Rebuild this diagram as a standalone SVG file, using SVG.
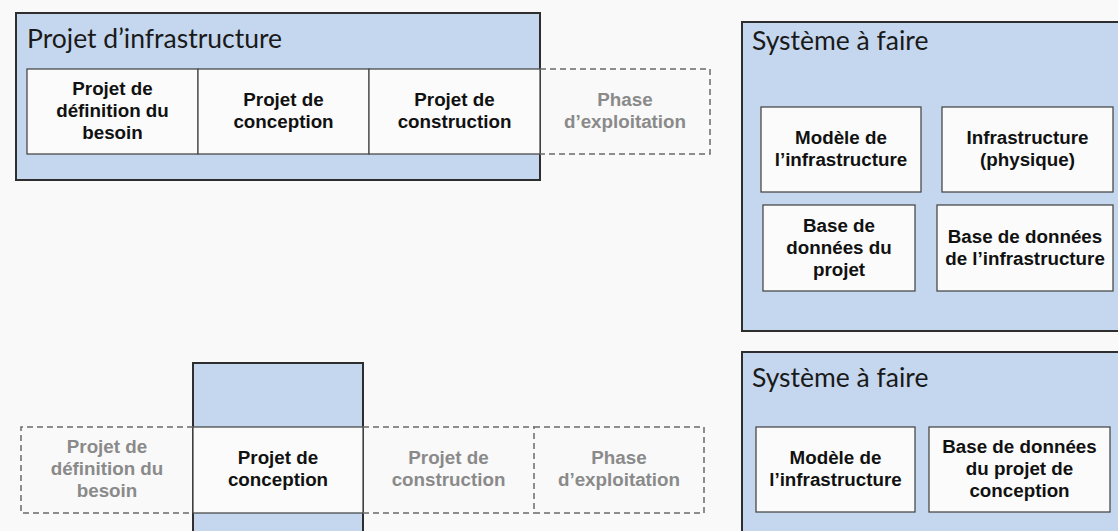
<svg xmlns="http://www.w3.org/2000/svg" width="1118" height="531" viewBox="0 0 1118 531">
<style>
.bg{fill:#f9f9f9}
.frame{fill:#c5d7ee;stroke:#2e2e2e;stroke-width:2}
.cell{fill:#fbfbfb;stroke:#4a4a4a;stroke-width:1.3}
.dash{fill:none;stroke:#6a6a6a;stroke-width:1.5;stroke-dasharray:6 4}
.title{font-family:Lato,"Open Sans",sans-serif;font-size:26.5px;fill:#1a1a1a}
.lbl{font-family:"Liberation Sans",Arial,sans-serif;font-weight:bold;font-size:18.8px;fill:#111;text-anchor:middle}
.gray{fill:#8a8a8a}
</style>
<rect class="bg" x="0" y="0" width="1118" height="531"/>

<g id="projet-infrastructure">
  <rect class="frame" x="16" y="13" width="524" height="167"/>
  <text class="title" x="27" y="48">Projet d’infrastructure</text>
</g>
<g id="top-definition">
  <rect class="cell" x="27" y="69" width="171" height="85"/>
  <text class="lbl"><tspan x="112.5" y="95">Projet de</tspan><tspan x="112.5" y="117">définition du</tspan><tspan x="112.5" y="139">besoin</tspan></text>
</g>
<g id="top-conception">
  <rect class="cell" x="198" y="69" width="171" height="85"/>
  <text class="lbl"><tspan x="283.5" y="106">Projet de</tspan><tspan x="283.5" y="128">conception</tspan></text>
</g>
<g id="top-construction">
  <rect class="cell" x="369" y="69" width="171" height="85"/>
  <text class="lbl"><tspan x="454.5" y="106">Projet de</tspan><tspan x="454.5" y="128">construction</tspan></text>
</g>
<g id="top-exploitation">
  <path class="dash" d="M540 69 H710 V154 H540"/>
  <text class="lbl gray"><tspan x="625" y="106">Phase</tspan><tspan x="625" y="128">d’exploitation</tspan></text>
</g>

<g id="systeme-haut">
  <rect class="frame" x="742" y="22" width="390" height="309"/>
  <text class="title" x="752" y="50">Système à faire</text>
</g>
<g id="modele-haut">
  <rect class="cell" x="761" y="107" width="160" height="85"/>
  <text class="lbl"><tspan x="841" y="144">Modèle de</tspan><tspan x="841" y="166">l’infrastructure</tspan></text>
</g>
<g id="infrastructure-physique">
  <rect class="cell" x="942" y="107" width="171" height="85"/>
  <text class="lbl"><tspan x="1027.5" y="144">Infrastructure</tspan><tspan x="1027.5" y="166">(physique)</tspan></text>
</g>
<g id="bdd-projet">
  <rect class="cell" x="763" y="205" width="152" height="86"/>
  <text class="lbl"><tspan x="839" y="232">Base de</tspan><tspan x="839" y="254">données du</tspan><tspan x="839" y="276">projet</tspan></text>
</g>
<g id="bdd-infrastructure">
  <rect class="cell" x="937" y="205" width="176" height="86"/>
  <text class="lbl"><tspan x="1025" y="243">Base de données</tspan><tspan x="1025" y="265">de l’infrastructure</tspan></text>
</g>

<g id="colonne-conception">
  <rect class="frame" x="193" y="363" width="170" height="190"/>
  <rect class="cell" x="193" y="427" width="170" height="86"/>
  <text class="lbl"><tspan x="278" y="464">Projet de</tspan><tspan x="278" y="486">conception</tspan></text>
</g>
<g id="bas-definition">
  <path class="dash" d="M193 427 H21 V513 H193"/>
  <text class="lbl gray"><tspan x="107" y="453">Projet de</tspan><tspan x="107" y="475">définition du</tspan><tspan x="107" y="497">besoin</tspan></text>
</g>
<g id="bas-construction">
  <path class="dash" d="M363 427 H534 M363 513 H534"/>
  <text class="lbl gray"><tspan x="448.5" y="464">Projet de</tspan><tspan x="448.5" y="486">construction</tspan></text>
</g>
<g id="bas-exploitation">
  <rect class="dash" x="534" y="427" width="170" height="86"/>
  <text class="lbl gray"><tspan x="619" y="464">Phase</tspan><tspan x="619" y="486">d’exploitation</tspan></text>
</g>

<g id="systeme-bas">
  <rect class="frame" x="742" y="352" width="390" height="200"/>
  <text class="title" x="752" y="387">Système à faire</text>
</g>
<g id="modele-bas">
  <rect class="cell" x="756" y="427" width="159" height="85"/>
  <text class="lbl"><tspan x="835.5" y="464">Modèle de</tspan><tspan x="835.5" y="486">l’infrastructure</tspan></text>
</g>
<g id="bdd-projet-conception">
  <rect class="cell" x="929" y="427" width="181" height="85"/>
  <text class="lbl"><tspan x="1019.5" y="453">Base de données</tspan><tspan x="1019.5" y="475">du projet de</tspan><tspan x="1019.5" y="497">conception</tspan></text>
</g>
<g id="connectors"/>
</svg>
